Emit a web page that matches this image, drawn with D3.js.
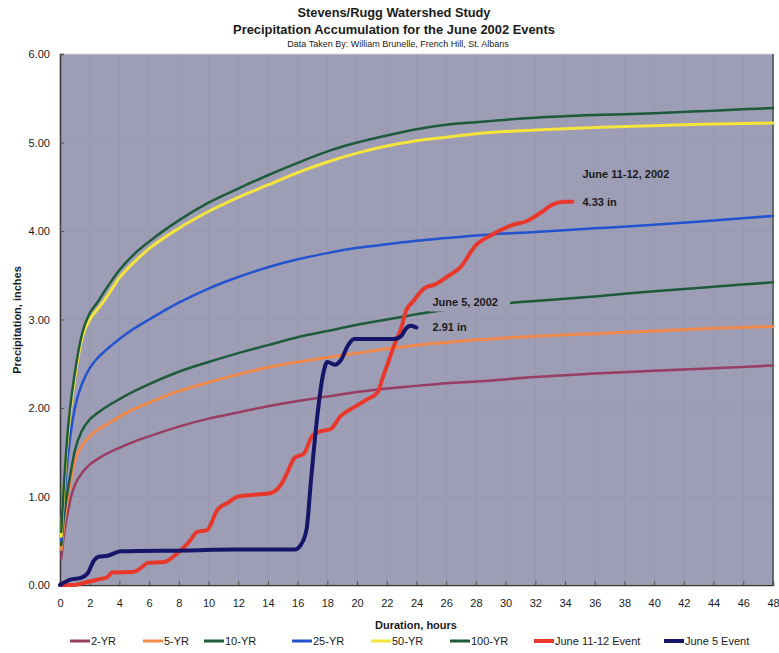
<!DOCTYPE html>
<html>
<head>
<meta charset="utf-8">
<script src="https://cdn.jsdelivr.net/npm/d3@7/dist/d3.min.js"></script>
<style>
  body { margin: 0; background: #fff; }
  text { font-family: "Liberation Sans", Arial, sans-serif; fill: #1a1a1a; }
</style>
</head>
<body>
<svg id="chart" width="779" height="653"></svg>
<script>
// Durations (hours) at which the design-storm depths are tabulated
const durations = [0.083, 0.25, 0.5, 0.75, 1, 1.5, 2, 2.5, 3, 4, 5, 6, 8, 10, 12, 14, 16, 18, 20, 22, 24, 26, 28, 32, 36, 40, 44, 48];

// Design-storm accumulation (inches) for each return period
const yr2   = [0.30, 0.55, 0.80, 1.00, 1.13, 1.27, 1.36, 1.42, 1.47, 1.55, 1.62, 1.68, 1.79, 1.88, 1.95, 2.02, 2.08, 2.13, 2.18, 2.22, 2.25, 2.28, 2.30, 2.35, 2.39, 2.42, 2.45, 2.48];
const yr5   = [0.40, 0.68, 0.97, 1.20, 1.40, 1.58, 1.68, 1.75, 1.80, 1.90, 1.99, 2.06, 2.19, 2.29, 2.38, 2.46, 2.52, 2.57, 2.62, 2.67, 2.71, 2.74, 2.77, 2.81, 2.84, 2.87, 2.90, 2.92];
const yr10  = [0.45, 0.75, 1.05, 1.30, 1.52, 1.75, 1.87, 1.94, 2.00, 2.10, 2.19, 2.27, 2.41, 2.52, 2.62, 2.71, 2.80, 2.87, 2.94, 3.00, 3.06, 3.11, 3.15, 3.21, 3.26, 3.32, 3.37, 3.42];
const yr25  = [0.50, 0.90, 1.40, 1.75, 2.00, 2.28, 2.45, 2.56, 2.64, 2.78, 2.90, 3.00, 3.19, 3.35, 3.48, 3.59, 3.68, 3.75, 3.81, 3.85, 3.89, 3.92, 3.95, 3.99, 4.03, 4.07, 4.12, 4.17];
const yr50  = [0.55, 1.05, 1.65, 2.05, 2.35, 2.80, 3.00, 3.11, 3.22, 3.47, 3.65, 3.80, 4.03, 4.22, 4.38, 4.52, 4.66, 4.78, 4.88, 4.96, 5.02, 5.06, 5.10, 5.14, 5.17, 5.19, 5.21, 5.22];
const yr100 = [0.60, 1.10, 1.70, 2.10, 2.40, 2.85, 3.07, 3.19, 3.32, 3.56, 3.74, 3.88, 4.12, 4.32, 4.48, 4.63, 4.77, 4.90, 5.00, 5.08, 5.15, 5.20, 5.23, 5.28, 5.31, 5.33, 5.36, 5.39];

// Observed storm accumulation, June 11-12, 2002
const june11Hours  = [0, 1, 1.5, 2.5, 3.2, 3.5, 5, 5.5, 5.9, 7, 7.9, 8.6, 9.25, 9.9, 10.6, 11.3, 12, 13.1, 14.2, 14.9, 15.3, 15.8, 16.4, 17.0, 17.6, 18.2, 18.9, 19.8, 20.7, 21.4, 21.7, 22.1, 22.5, 23.0, 23.3, 23.75, 24.5, 25.3, 26.2, 26.9, 28.0, 29.1, 30.5, 31.4, 32.3, 33.2, 33.9, 34.5];
const june11Values = [0, 0, 0.02, 0.06, 0.09, 0.14, 0.15, 0.20, 0.25, 0.26, 0.36, 0.47, 0.60, 0.62, 0.85, 0.93, 1.00, 1.02, 1.04, 1.14, 1.27, 1.44, 1.48, 1.69, 1.74, 1.76, 1.91, 2.01, 2.10, 2.18, 2.33, 2.52, 2.71, 2.92, 3.10, 3.20, 3.35, 3.40, 3.50, 3.58, 3.84, 3.96, 4.07, 4.11, 4.20, 4.30, 4.33, 4.33];

// Observed storm accumulation, June 5, 2002
const june5Hours  = [0, 0.7, 1.4, 1.85, 2.3, 2.6, 3.2, 4.1, 8.6, 11.7, 15.8, 16.2, 16.6, 16.9, 17.35, 17.7, 18.0, 18.5, 18.9, 19.4, 19.8, 22.5, 23.0, 23.3, 23.6, 24.0];
const june5Values = [0, 0.06, 0.08, 0.13, 0.28, 0.32, 0.33, 0.38, 0.39, 0.40, 0.40, 0.45, 0.63, 1.19, 1.95, 2.37, 2.52, 2.49, 2.54, 2.71, 2.78, 2.78, 2.82, 2.90, 2.93, 2.91];

// Axis ticks
const xTicks = d3.range(0, 49, 2);
const yTicks = [0, 1, 2, 3, 4, 5, 6];

const seriesNames = ["2-YR", "5-YR", "10-YR", "25-YR", "50-YR", "100-YR", "June 11-12 Event", "June 5 Event"];
const seriesColors = ["#983e62", "#f08a4c", "#1d5b3a", "#2353cf", "#f4e43c", "#1d5b3a", "#e8382b", "#15156a"];

const svg = d3.select("#chart");
const plot = { left: 60, right: 773, top: 54, bottom: 585 };
const plotFill = "#9e9db6";

const x = d3.scaleLinear().domain([0, 48]).range([plot.left, plot.right]);
const y = d3.scaleLinear().domain([0, 6]).range([plot.bottom, plot.top]);

// Titles
const titles = svg.append("g").attr("text-anchor", "middle");
titles.append("text").attr("x", 394).attr("y", 17).style("font-size", "12.8px").style("font-weight", "bold")
  .text("Stevens/Rugg Watershed Study");
titles.append("text").attr("x", 394).attr("y", 34).style("font-size", "12.9px").style("font-weight", "bold")
  .text("Precipitation Accumulation for the June 2002 Events");
titles.append("text").attr("x", 398).attr("y", 47).style("font-size", "9px")
  .text("Data Taken By: William Brunelle, French Hill, St. Albans");

// Plot area
svg.append("rect")
  .attr("x", plot.left).attr("y", plot.top)
  .attr("width", plot.right - plot.left).attr("height", plot.bottom - plot.top)
  .attr("fill", plotFill).attr("stroke", "#d8d8e0").attr("stroke-width", 1);

// Faint gridlines
const grid = svg.append("g").attr("stroke", "#8e8da8").attr("stroke-width", 1).attr("opacity", 0.35);
grid.selectAll("line.v").data(xTicks.slice(1, -1)).join("line")
  .attr("x1", d => x(d)).attr("x2", d => x(d)).attr("y1", plot.top).attr("y2", plot.bottom);
grid.selectAll("line.h").data(yTicks.slice(1, -1)).join("line")
  .attr("x1", plot.left).attr("x2", plot.right).attr("y1", d => y(d)).attr("y2", d => y(d));

// Right border
svg.append("line").attr("x1", plot.right).attr("x2", plot.right).attr("y1", plot.top).attr("y2", plot.bottom)
  .attr("stroke", "#444").attr("stroke-width", 1.5);

// Axes
const xAxis = svg.append("g").attr("transform", `translate(0,${plot.bottom})`)
  .call(d3.axisBottom(x).tickValues(xTicks).tickSize(-4).tickPadding(14).tickFormat(d3.format("d")));
const yAxis = svg.append("g").attr("transform", `translate(${plot.left},0)`)
  .call(d3.axisLeft(y).tickValues(yTicks).tickSize(-4).tickPadding(10).tickFormat(d3.format(".2f")));
[xAxis, yAxis].forEach(a => {
  a.select(".domain").attr("stroke", "#3a3a3a").attr("stroke-width", 1.5);
  a.selectAll(".tick line").attr("stroke", "#555");
  a.selectAll(".tick text").style("font-size", "11px").attr("fill", "#2a2a2a");
});

// Axis titles
svg.append("text").attr("x", 416).attr("y", 629).attr("text-anchor", "middle")
  .style("font-size", "11px").style("font-weight", "bold").text("Duration, hours");
svg.append("text").attr("transform", "translate(21,320) rotate(-90)").attr("text-anchor", "middle")
  .style("font-size", "11px").style("font-weight", "bold").text("Precipitation, inches");

// Design-storm curves
const curveLine = d3.line().x(d => x(d[0])).y(d => y(d[1])).curve(d3.curveMonotoneX);
const designSeries = [yr2, yr5, yr10, yr25, yr50, yr100];
const curves = svg.append("g").attr("fill", "none").attr("stroke-linejoin", "round").attr("stroke-linecap", "round");
designSeries.forEach((vals, i) => {
  curves.append("path")
    .datum(durations.map((h, j) => [h, vals[j]]))
    .attr("d", curveLine)
    .attr("stroke", seriesColors[i])
    .attr("stroke-width", i === 1 || i === 4 ? 3 : 2.5);
});

// Event end points and value labels
const june11End = [june11Hours[june11Hours.length - 1], june11Values[june11Values.length - 1]];
const june5End = [june5Hours[june5Hours.length - 1], june5Values[june5Values.length - 1]];
const fmtIn = d3.format(".2f");

// Label drawn on a box of the plot colour, so it masks curves behind it
function boxedLabel(tx, ty, str, padL, padR) {
  const g = svg.append("g");
  const rect = g.append("rect").attr("fill", plotFill);
  const t = g.append("text").attr("x", tx).attr("y", ty)
    .style("font-size", "11px").style("font-weight", "bold").text(str);
  const bb = t.node().getBBox();
  rect.attr("x", bb.x - padL).attr("y", bb.y - 2).attr("width", bb.width + padL + padR).attr("height", bb.height + 5);
  return g;
}

// Observed events
const events = [[june11Hours, june11Values, 6], [june5Hours, june5Values, 7]];
events.forEach(([hs, vs, ci]) => {
  svg.append("path")
    .datum(hs.map((h, j) => [h, vs[j]]))
    .attr("d", curveLine)
    .attr("fill", "none")
    .attr("stroke", seriesColors[ci])
    .attr("stroke-width", 4)
    .attr("stroke-linejoin", "round")
    .attr("stroke-linecap", "round");
});

boxedLabel(x(june11End[0]) + 10, y(june11End[1]) - 24, "June 11-12, 2002", 0, 0);
boxedLabel(x(june11End[0]) + 10, y(june11End[1]) + 4, fmtIn(june11End[1]) + " in", 0, 0);
boxedLabel(x(june5End[0]) + 16, y(june5End[1]) - 21, "June 5, 2002", 4, 12);
boxedLabel(x(june5End[0]) + 16, y(june5End[1]) + 4, fmtIn(june5End[1]) + " in", 0, 0);

// Legend
const legendX = [70, 143, 204, 292, 371, 450, 534, 664];
const legendY = 641;
const legend = svg.append("g");
seriesNames.forEach((name, i) => {
  const g = legend.append("g").attr("transform", `translate(${legendX[i]},${legendY})`);
  g.append("line").attr("x1", 0).attr("x2", 20).attr("y1", 0).attr("y2", 0)
    .attr("stroke", seriesColors[i]).attr("stroke-width", i >= 6 ? 4 : 3);
  g.append("text").attr("x", 21).attr("y", 4).style("font-size", "11px").attr("fill", "#2a2a2a").text(name);
});
</script>
</body>
</html>
